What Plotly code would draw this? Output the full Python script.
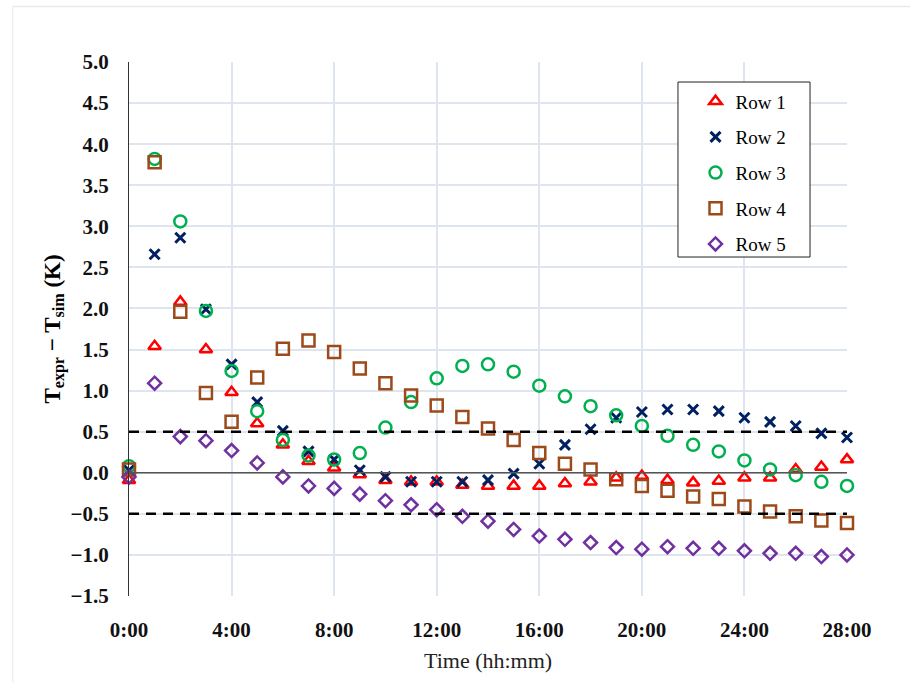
import plotly.graph_objects as go

hours = list(range(29))
tick_vals = [0, 4, 8, 12, 16, 20, 24, 28]
tick_text = ["0:00", "4:00", "8:00", "12:00", "16:00", "20:00", "24:00", "28:00"]

row1 = [-0.09, 1.54, 2.08, 1.50, 0.98, 0.60, 0.34, 0.14, 0.06, -0.02, -0.09, -0.11, -0.11, -0.15,
        -0.16, -0.16, -0.16, -0.13, -0.11, -0.06, -0.04, -0.09, -0.12, -0.10, -0.06, -0.06, 0.04, 0.07, 0.16]
row2 = [0.03, 2.66, 2.86, 1.99, 1.32, 0.86, 0.51, 0.26, 0.16, 0.03, -0.05, -0.11, -0.11, -0.11,
        -0.09, -0.01, 0.11, 0.34, 0.53, 0.67, 0.74, 0.77, 0.77, 0.75, 0.67, 0.62, 0.57, 0.48, 0.43]
row3 = [0.08, 3.82, 3.06, 1.97, 1.24, 0.75, 0.40, 0.21, 0.16, 0.24, 0.55, 0.86, 1.15, 1.30,
        1.32, 1.23, 1.06, 0.93, 0.81, 0.70, 0.57, 0.45, 0.34, 0.26, 0.15, 0.04, -0.03, -0.11, -0.16]
row4 = [0.04, 3.78, 1.96, 0.97, 0.62, 1.16, 1.51, 1.61, 1.47, 1.27, 1.09, 0.94, 0.82, 0.68,
        0.54, 0.40, 0.24, 0.11, 0.04, -0.08, -0.16, -0.22, -0.29, -0.32, -0.41, -0.47, -0.53, -0.58, -0.61]
row5 = [-0.05, 1.09, 0.44, 0.39, 0.27, 0.12, -0.05, -0.16, -0.19, -0.26, -0.34, -0.39, -0.45, -0.53,
        -0.59, -0.69, -0.77, -0.81, -0.85, -0.91, -0.93, -0.90, -0.92, -0.92, -0.95, -0.98, -0.98, -1.02, -1.00]

series_names = ["Row 1", "Row 2", "Row 3", "Row 4", "Row 5"]
band_limits = [-0.5, 0.5]

FONT = "Liberation Serif"

styles = [
    dict(symbol="triangle-up-open", color="#ff0000", size=11, width=2.5),
    dict(symbol="x-thin-open", color="#002060", size=10, width=3),
    dict(symbol="circle-open", color="#00b050", size=12, width=2.5),
    dict(symbol="square-open", color="#9c4a1a", size=12, width=2.5),
    dict(symbol="diamond-open", color="#7030a0", size=10, width=2.5),
]

fig = go.Figure()

for name, vals, st in zip(series_names, [row1, row2, row3, row4, row5], styles):
    fig.add_trace(go.Scatter(
        x=hours, y=vals, mode="markers", name=name, legendgroup=name,
        cliponaxis=False,
        marker=dict(symbol=st["symbol"], size=st["size"], color=st["color"],
                    line=dict(color=st["color"], width=st["width"])),
    ))

# zero line
fig.add_shape(type="line", xref="paper", x0=0, x1=1, yref="y", y0=0, y1=0,
              line=dict(color="#555555", width=1.5), layer="above")
for b in band_limits:
    fig.add_shape(type="line", xref="paper", x0=0, x1=1, yref="y", y0=b, y1=b,
                  line=dict(color="black", width=2.5, dash="10px,7px"), layer="above")

# legend box
fig.add_shape(type="rect", xref="paper", yref="paper", x0=0.7646, x1=0.9485, y0=0.6348, y1=0.9625,
              line=dict(color="#222222", width=1), fillcolor="white", layer="above")

# outer frame (left and top edges)
fig.add_shape(type="line", xref="paper", yref="paper", x0=-0.162, x1=1.1, y0=1.104, y1=1.104,
              line=dict(color="#e6e9ef", width=1.5))
fig.add_shape(type="line", xref="paper", yref="paper", x0=-0.162, x1=-0.162, y0=-0.2, y1=1.104,
              line=dict(color="#eeeeee", width=1.5))

fig.add_annotation(
    text="<b>T<sub>expr</sub> − T<sub>sim</sub> (K)</b>",
    xref="paper", yref="paper", x=-0.105, y=0.5, textangle=-90, showarrow=False,
    font=dict(family=FONT, size=23, color="black"), xanchor="center", yanchor="middle")
fig.add_annotation(
    text="Time (hh:mm)", xref="paper", yref="paper", x=0.5, y=-0.12, showarrow=False,
    font=dict(family=FONT, size=22, color="#222222"), xanchor="center", yanchor="middle")

fig.update_layout(
    width=910, height=682,
    margin=dict(l=129, r=63, t=62, b=86),
    paper_bgcolor="white", plot_bgcolor="white",
    showlegend=True,
    legend=dict(x=0.789, y=0.962, xanchor="left", yanchor="top",
                bgcolor="rgba(0,0,0,0)", borderwidth=0,
                font=dict(family=FONT, size=19, color="black"),
                tracegroupgap=8, itemwidth=30),
    font=dict(family=FONT, color="black"),
)

fig.update_xaxes(range=[0, 28], tickvals=tick_vals, ticktext=tick_text,
                 showgrid=True, gridcolor="#dfe5ee", gridwidth=1.5,
                 showline=False, zeroline=False, ticks="",
                 tickfont=dict(family=FONT, size=21, color="#111111", weight="bold"),
                 ticklabelstandoff=19)
fig.update_yaxes(range=[-1.5, 5.0], dtick=0.5, tickformat=".1f",
                 showgrid=True, gridcolor="#dfe5ee", gridwidth=1.5,
                 showline=True, linecolor="#333333", linewidth=1, zeroline=False, ticks="",
                 tickfont=dict(family=FONT, size=21, color="#111111", weight="bold"),
                 ticklabelstandoff=15)

fig.write_html("out.html", post_script="document.body.style.margin='0';",
               config={"displayModeBar": False})
